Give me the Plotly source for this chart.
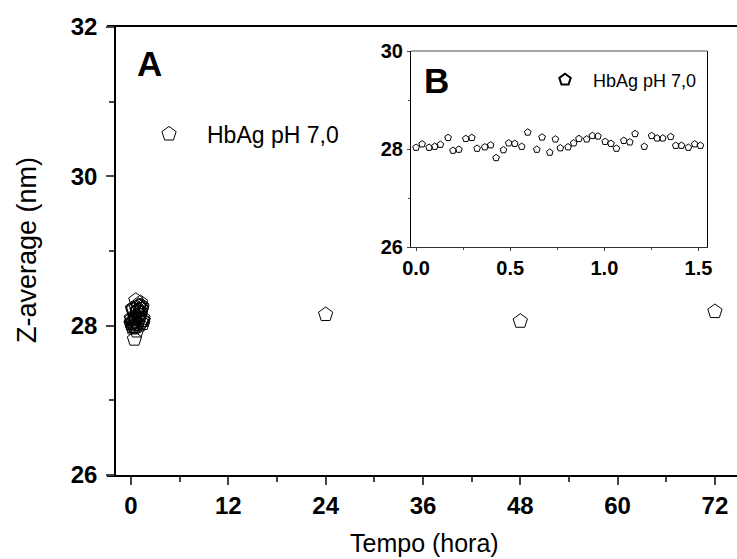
import plotly.graph_objects as go

# ---- data ----
short_time_h = [0.000, 0.032, 0.069, 0.099, 0.129, 0.170, 0.196, 0.227, 0.264, 0.296,
                0.324, 0.365, 0.396, 0.425, 0.464, 0.492, 0.524, 0.561, 0.593, 0.641,
                0.669, 0.710, 0.740, 0.766, 0.807, 0.837, 0.865, 0.906, 0.936, 0.966,
                1.004, 1.035, 1.064, 1.103, 1.135, 1.163, 1.212, 1.251, 1.280, 1.310,
                1.352, 1.379, 1.409, 1.446, 1.480, 1.510]
short_z_nm = [28.03, 28.10, 28.03, 28.05, 28.09, 28.23, 27.97, 27.99, 28.21, 28.23,
              28.01, 28.04, 28.08, 27.82, 27.98, 28.12, 28.11, 28.05, 28.34, 27.99,
              28.24, 27.93, 28.20, 28.02, 28.04, 28.12, 28.21, 28.20, 28.27, 28.26,
              28.15, 28.11, 28.01, 28.17, 28.14, 28.31, 28.05, 28.27, 28.22, 28.22,
              28.25, 28.07, 28.07, 28.03, 28.10, 28.07]
long_time_h = [24, 48, 72]
long_z_nm = [28.15, 28.06, 28.19]

series_name = "HbAg pH 7,0"
main_xticks = [0, 12, 24, 36, 48, 60, 72]
main_yticks = [26, 28, 30, 32]
inset_xticks = [0.0, 0.5, 1.0, 1.5]
inset_xlabels = ["0.0", "0.5", "1.0", "1.5"]
inset_yticks = [26, 28, 30]

W, H = 737, 559
FONT = "Liberation Sans"

main_x = short_time_h + long_time_h
main_y = short_z_nm + long_z_nm

fig = go.Figure()
fig.add_trace(go.Scatter(
    x=main_x, y=main_y, mode="markers", name=series_name,
    marker=dict(symbol="pentagon-open", size=15, color="black", line=dict(width=1, color="black")),
    xaxis="x", yaxis="y", legend="legend"))
fig.add_trace(go.Scatter(
    x=short_time_h, y=short_z_nm, mode="markers", name=series_name,
    marker=dict(symbol="pentagon-open", size=7, color="black", line=dict(width=1, color="black")),
    xaxis="x2", yaxis="y2", legend="legend2"))

bold_tick = dict(family=FONT, size=24, color="black", weight="bold")
inset_tick = dict(family=FONT, size=20, color="black", weight="bold")

fig.update_layout(
    width=W, height=H,
    margin=dict(l=0, r=0, t=0, b=0, autoexpand=False),
    paper_bgcolor="white", plot_bgcolor="rgba(0,0,0,0)",
    font=dict(family=FONT, color="black"),
    xaxis=dict(domain=[107 / W, 1.0], range=[-2.96, 74.72], anchor="y", automargin=False,
               tickmode="array", tickvals=main_xticks, ticks="outside", ticklen=8, tickwidth=1.5,
               minor=dict(dtick=6, tick0=0, ticks="outside", ticklen=5, tickwidth=1.5),
               showline=True, linewidth=1.5, linecolor="black", mirror=True,
               showgrid=False, zeroline=False, tickfont=bold_tick),
    yaxis=dict(domain=[(H - 475) / H, (H - 27) / H], range=[26, 32], anchor="free",
               position=115 / W, automargin=False, ticklabelstandoff=4,
               tickmode="array", tickvals=main_yticks, ticks="outside", ticklen=8, tickwidth=1.5,
               minor=dict(dtick=1, tick0=26, ticks="outside", ticklen=5, tickwidth=1.5),
               showline=True, linewidth=1.5, linecolor="black",
               showgrid=False, zeroline=False, tickfont=bold_tick),
    xaxis2=dict(domain=[411 / W, 707 / W], range=[-0.027, 1.545], anchor="y2", automargin=False,
                tickmode="array", tickvals=inset_xticks, ticktext=inset_xlabels,
                ticks="outside", ticklen=3, tickwidth=1,
                minor=dict(dtick=0.25, tick0=0, ticks="outside", ticklen=2, tickwidth=1),
                showline=True, linewidth=1.2, linecolor="#333333", mirror=False,
                showgrid=False, zeroline=False, tickfont=inset_tick),
    yaxis2=dict(domain=[(H - 247) / H, (H - 51) / H], range=[26, 30], anchor="x2", automargin=False,
                tickmode="array", tickvals=inset_yticks, ticks="outside", ticklen=3, tickwidth=1,
                minor=dict(dtick=1, tick0=26, ticks="outside", ticklen=2, tickwidth=1),
                showline=True, linewidth=1.2, linecolor="black", mirror=True,
                showgrid=False, zeroline=False, tickfont=inset_tick),
    legend=dict(x=131 / W, y=(H - 134) / H, xanchor="left", yanchor="middle",
                bgcolor="rgba(0,0,0,0)", borderwidth=0, itemwidth=66, itemsizing="trace",
                font=dict(family=FONT, size=23, color="black")),
    legend2=dict(x=537 / W, y=(H - 80) / H, xanchor="left", yanchor="middle",
                 bgcolor="rgba(0,0,0,0)", borderwidth=0, itemwidth=46, itemsizing="constant",
                 font=dict(family=FONT, size=18, color="black")),
    showlegend=True,
)

# inset background and grey top border
fig.add_shape(type="rect", xref="x2 domain", yref="y2 domain", x0=0, x1=1, y0=0, y1=1,
              fillcolor="white", line=dict(width=0), layer="below")
fig.add_shape(type="line", xref="x2 domain", yref="y2 domain", x0=0, x1=1, y0=1, y1=1,
              line=dict(width=1.5, color="#8a8a8a"))

fig.add_annotation(text="A", xref="paper", yref="paper", x=149 / W, y=(H - 64) / H,
                   showarrow=False, xanchor="center", yanchor="middle",
                   font=dict(family=FONT, size=35, color="black", weight="bold"))
fig.add_annotation(text="B", xref="paper", yref="paper", x=436 / W, y=(H - 80) / H,
                   showarrow=False, xanchor="center", yanchor="middle",
                   font=dict(family=FONT, size=35, color="black", weight="bold"))
fig.add_annotation(text="Tempo (hora)", xref="paper", yref="paper", x=424 / W, y=(H - 543) / H,
                   showarrow=False, xanchor="center", yanchor="middle",
                   font=dict(family=FONT, size=25, color="black"))
fig.add_annotation(text="Z-average (nm)", xref="paper", yref="paper", x=27 / W, y=(H - 250) / H,
                   showarrow=False, xanchor="center", yanchor="middle", textangle=-90,
                   font=dict(family=FONT, size=27, color="black"))

fig.write_html("out.html", config={"displayModeBar": False},
               post_script="document.body.style.margin='0';document.body.style.padding='0';")
